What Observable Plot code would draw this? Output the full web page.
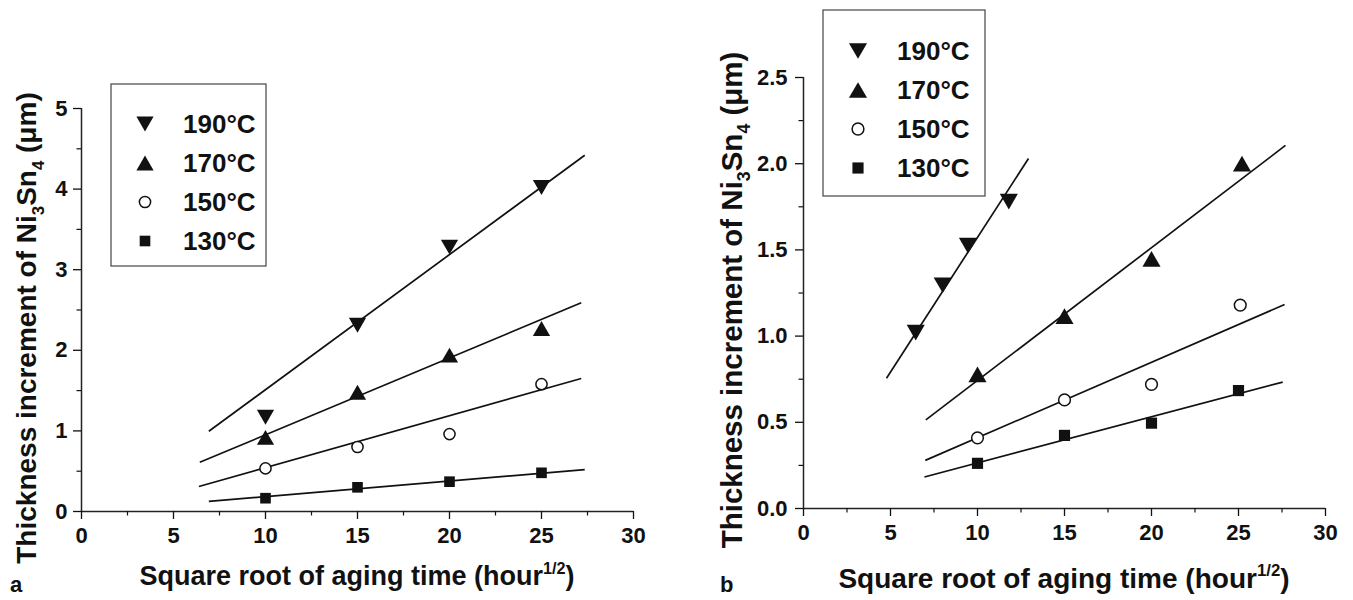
<!DOCTYPE html>
<html><head><meta charset="utf-8">
<script src="https://cdn.jsdelivr.net/npm/d3@7"></script>
<script src="https://cdn.jsdelivr.net/npm/@observablehq/plot@0.6"></script>
<style>
html,body{margin:0;padding:0;background:#fff;}
#wrap{position:relative;width:1353px;height:600px;overflow:hidden;background:#fff;}
#wrap svg{position:absolute;top:0;overflow:visible;}
</style></head><body><div id="wrap"></div>
<script>
// ---------- data ----------
const seriesNames = ["190°C", "170°C", "150°C", "130°C"];
const xTicks = [0, 5, 10, 15, 20, 25, 30];
const xMinor = [2.5, 7.5, 12.5, 17.5, 22.5, 27.5];
const yTicksA = [0, 1, 2, 3, 4, 5];
const yMinorA = [0.5, 1.5, 2.5, 3.5, 4.5];
const yTicksB = [0, 0.5, 1, 1.5, 2, 2.5];
const yMinorB = [0.25, 0.75, 1.25, 1.75, 2.25];

// panel a
const timeA = [10, 15, 20, 25];
const a190 = [1.17, 2.31, 3.28, 4.02];
const a170 = [0.92, 1.48, 1.94, 2.27];
const a150 = [0.535, 0.80, 0.96, 1.58];
const a130 = [0.165, 0.30, 0.37, 0.48];
const fitAx1 = [6.92, 6.43, 6.38, 6.92];
const fitAy1 = [0.995, 0.61, 0.31, 0.125];
const fitAx2 = [27.35, 27.16, 27.16, 27.35];
const fitAy2 = [4.42, 2.59, 1.65, 0.52];

// panel b
const timeB190 = [6.45, 8.0, 9.45, 11.8];
const b190 = [1.02, 1.295, 1.525, 1.78];
const timeB170 = [10, 15, 20, 25.2];
const b170 = [0.778, 1.116, 1.448, 2.0];
const timeB150 = [10, 15, 20, 25.1];
const b150 = [0.41, 0.63, 0.72, 1.18];
const timeB130 = [10, 15, 20, 25];
const b130 = [0.262, 0.424, 0.495, 0.684];
const fitBx1 = [4.77, 7.03, 7.0, 6.95];
const fitBy1 = [0.756, 0.514, 0.279, 0.183];
const fitBx2 = [12.93, 27.7, 27.65, 27.54];
const fitBy2 = [2.03, 2.106, 1.183, 0.733];

// ---------- helpers ----------
const FONT = "'Liberation Sans', Arial, Helvetica, sans-serif";
const S3 = Math.sqrt(3);
const triDown = {draw(c, size) { const y = Math.sqrt(size / (S3 * 3)); c.moveTo(0, 1.5 * y); c.lineTo(-S3 * y, -1.5 * y); c.lineTo(S3 * y, -1.5 * y); c.closePath(); }};
const triUp = {draw(c, size) { const y = Math.sqrt(size / (S3 * 3)); c.moveTo(0, -1.5 * y); c.lineTo(-S3 * y, 1.5 * y); c.lineTo(S3 * y, 1.5 * y); c.closePath(); }};
const styles = [
  {symbol: triDown, fill: "#111", stroke: "none", r: 6.4},
  {symbol: triUp, fill: "#111", stroke: "none", r: 6.4},
  {symbol: "circle", fill: "white", stroke: "#111", r: 5.6},
  {symbol: "square", fill: "#111", stroke: "none", r: 6.0}
];

function rows(xs, ys) { return xs.map((x, i) => ({x, y: ys[i]})); }
function fitRows(x1, y1, x2, y2) { return x1.map((v, i) => ({x1: v, y1: y1[i], x2: x2[i], y2: y2[i]})); }

function panel(opts) {
  const {width, margins, yDomain, yTicks, yMinor, yFmt, series, fits, tickFont, rSc} = opts;
  const marks = [
    Plot.ruleY([0], {stroke: "#222", strokeWidth: 1.5}),
    Plot.ruleX([0], {stroke: "#222", strokeWidth: 1.5}),
    Plot.axisX({ticks: xTicks, tickSize: 8, tickPadding: 8, fontSize: tickFont, fontWeight: "bold", label: null, strokeWidth: 1.3}),
    Plot.axisX({ticks: xMinor, tickSize: 4.5, tickFormat: () => "", label: null, strokeWidth: 1.2}),
    Plot.axisY({ticks: yTicks, tickSize: 8, tickPadding: opts.yPad, tickFormat: yFmt, fontSize: tickFont, fontWeight: "bold", label: null, strokeWidth: 1.3}),
    Plot.axisY({ticks: yMinor, tickSize: 4.5, tickFormat: () => "", label: null, strokeWidth: 1.2}),
    Plot.link(fits, {x1: "x1", y1: "y1", x2: "x2", y2: "y2", stroke: "#111", strokeWidth: 1.7})
  ];
  series.forEach((data, i) => {
    const s = styles[i];
    marks.push(Plot.dot(data, {x: "x", y: "y", symbol: s.symbol, r: s.r * rSc, fill: s.fill, stroke: s.stroke, strokeWidth: 1.5}));
  });
  const svg = Plot.plot({
    width, height: 600,
    marginLeft: margins[0], marginRight: margins[1], marginTop: margins[2], marginBottom: margins[3],
    x: {domain: [0, 30]}, y: {domain: yDomain},
    style: {fontFamily: FONT, color: "#111", background: "transparent", fontWeight: "bold"},
    marks
  });
  // enforce tick label size (all texts present at this point are tick labels)
  d3.select(svg).selectAll("text").style("font-size", tickFont + "px").style("font-weight", "bold");
  return svg;
}

function rich(sel, parts, fs) {
  let shift = 0;
  parts.forEach(p => {
    const [str, kind] = typeof p === "string" ? [p, null] : p;
    const target = kind === "sub" ? fs * 0.28 : kind === "sup" ? -fs * 0.42 : 0;
    const ts = sel.append("tspan").text(str).attr("dy", target - shift);
    if (kind) ts.attr("font-size", fs * 0.6);
    shift = target;
  });
}

function decorate(svg, o) {
  const g = d3.select(svg).append("g").attr("font-family", FONT).attr("font-weight", "bold").attr("fill", "#111");
  // y title
  const yt = g.append("text").attr("transform", `translate(${o.yTitle[0]},${o.yTitle[1]}) rotate(-90)`)
    .attr("text-anchor", "middle").attr("font-size", o.yFont);
  rich(yt, ["Thickness increment of Ni", ["3", "sub"], "Sn", ["4", "sub"], " (μm)"], o.yFont);
  // x title
  const xt = g.append("text").attr("x", o.xTitle[0]).attr("y", o.xTitle[1])
    .attr("text-anchor", "middle").attr("font-size", o.xFont);
  rich(xt, ["Square root of aging time (hour", ["1/2", "sup"], ")"], o.xFont);
  // panel letter
  g.append("text").attr("x", o.letter[0]).attr("y", o.letter[1]).attr("text-anchor", "start")
    .attr("font-size", 22).text(o.letterText);
  // legend
  const L = o.legend;
  g.append("rect").attr("x", L.x).attr("y", L.y).attr("width", L.w).attr("height", L.h)
    .attr("fill", "white").attr("stroke", "#444").attr("stroke-width", 1.2);
  seriesNames.forEach((name, i) => {
    const s = styles[i];
    const cy = L.row0 + i * L.dy;
    const type = typeof s.symbol === "string" ? (s.symbol === "circle" ? d3.symbolCircle : d3.symbolSquare) : s.symbol;
    const r = s.r * o.rSc;
    g.append("path").attr("d", d3.symbol(type, Math.PI * r * r)())
      .attr("transform", `translate(${L.sx},${cy})`)
      .attr("fill", s.fill).attr("stroke", s.stroke).attr("stroke-width", 1.5);
    g.append("text").attr("x", L.tx).attr("y", cy + 9).attr("text-anchor", "start")
      .attr("font-size", L.font).text(name);
  });
}

// ---------- panel a ----------
const svgA = panel({
  width: 676, margins: [81, 43, 108, 89], yDomain: [0, 5], yTicks: yTicksA, yMinor: yMinorA,
  yFmt: d => String(d), yPad: 6, tickFont: 22, rSc: 1,
  series: [rows(timeA, a190), rows(timeA, a170), rows(timeA, a150), rows(timeA, a130)],
  fits: fitRows(fitAx1, fitAy1, fitAx2, fitAy2)
});
svgA.style.left = "0px";
document.getElementById("wrap").appendChild(svgA);
decorate(svgA, {
  yTitle: [36, 328], xTitle: [357, 585], yFont: 28, xFont: 27, letter: [10, 592], letterText: "a", rSc: 1,
  legend: {x: 111, y: 84, w: 155, h: 182, sx: 145, tx: 183, row0: 124, dy: 39, font: 26}
});

// ---------- panel b ----------
const svgB = panel({
  width: 677, margins: [127, 28, 77, 92], yDomain: [0, 2.5], yTicks: yTicksB, yMinor: yMinorB,
  yFmt: d => d.toFixed(1), yPad: 8, tickFont: 22, rSc: 1.05,
  series: [rows(timeB190, b190), rows(timeB170, b170), rows(timeB150, b150), rows(timeB130, b130)],
  fits: fitRows(fitBx1, fitBy1, fitBx2, fitBy2)
});
svgB.style.left = "676px";
document.getElementById("wrap").appendChild(svgB);
decorate(svgB, {
  yTitle: [66, 300], xTitle: [388, 588], yFont: 29.5, xFont: 28, letter: [44, 592], letterText: "b", rSc: 1.05,
  legend: {x: 147, y: 10, w: 162, h: 186, sx: 182, tx: 221, row0: 51, dy: 39, font: 26}
});
</script></body></html>
